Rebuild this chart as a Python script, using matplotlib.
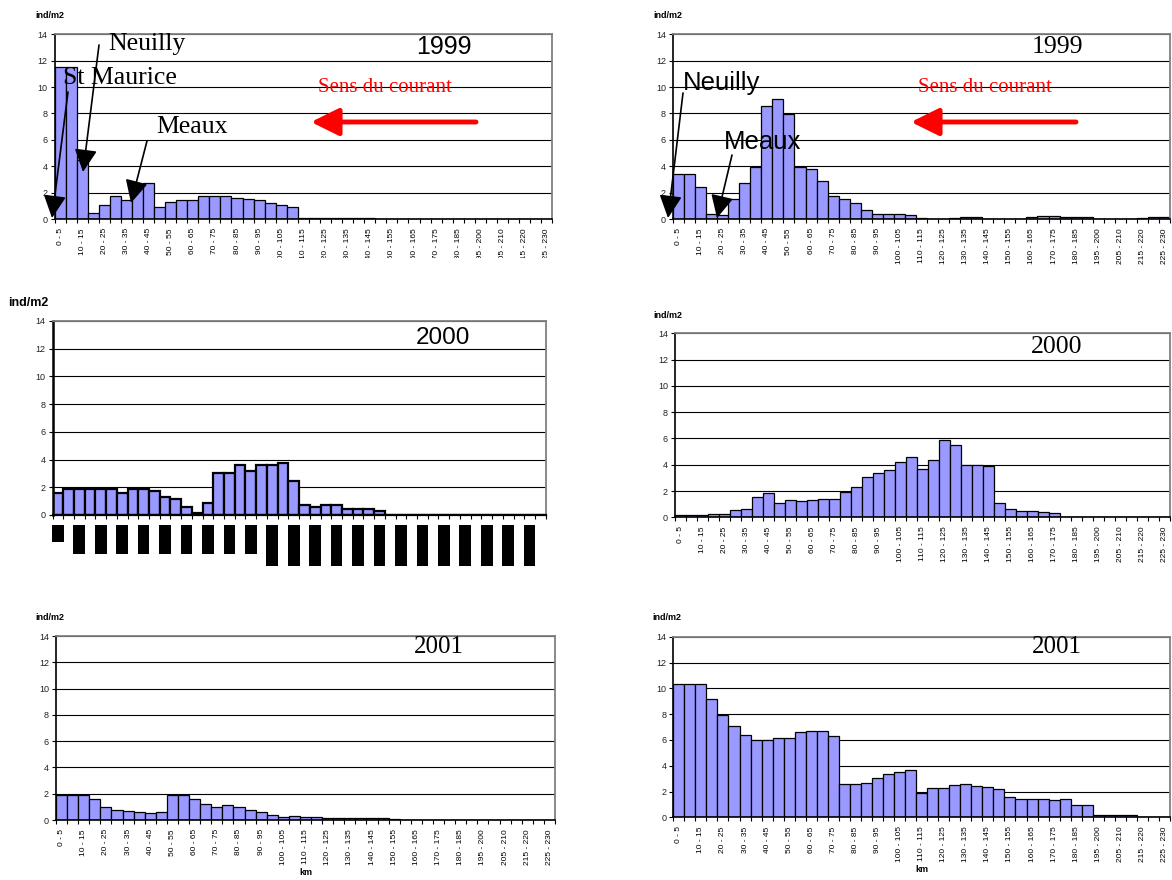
import numpy as np
import matplotlib
matplotlib.use('Agg')
import matplotlib.pyplot as plt
from matplotlib.transforms import blended_transform_factory

W, H = 1172, 880

SANS = 'Liberation Sans'
SERIF = 'Liberation Serif'
BAR = '#9999ff'

plt.rcParams['font.family'] = SANS

# classes de distance (km)
km_bins = [f"{a} - {a + 5}" for a in range(0, 185, 5)] + [
    "185 - 195", "195 - 200", "200 - 205", "205 - 210",
    "210 - 215", "215 - 220", "220 - 225", "225 - 230"]
km_bins_46 = km_bins + ["230 - 235"]

# densités ind/m2, colonne gauche
dens_1999_g = [11.5, 11.5, 4.5, 0.43, 1.04, 1.74, 1.44, 2.5, 2.73, 0.91,
               1.29, 1.42, 1.42, 1.74, 1.74, 1.74, 1.57, 1.5, 1.42, 1.19,
               1.04, 0.88, 0.1, 0.1, 0.1, 0.1, 0.1, 0.1, 0.05, 0,
               0, 0, 0, 0, 0, 0, 0, 0, 0, 0,
               0, 0, 0, 0, 0]
dens_2000_g = [1.61, 1.9, 1.9, 1.9, 1.9, 1.9, 1.61, 1.9, 1.9, 1.75,
               1.3, 1.15, 0.58, 0.17, 0.86, 3.05, 3.05, 3.63, 3.2, 3.63,
               3.63, 3.77, 2.47, 0.74, 0.58, 0.74, 0.74, 0.46, 0.46, 0.46,
               0.31, 0, 0, 0, 0, 0, 0, 0, 0, 0,
               0, 0, 0, 0, 0, 0]
dens_2001_g = [1.93, 1.93, 1.93, 1.57, 0.99, 0.74, 0.66, 0.58, 0.53, 0.58,
               1.93, 1.88, 1.62, 1.24, 0.99, 1.12, 0.99, 0.74, 0.58, 0.41,
               0.23, 0.28, 0.25, 0.25, 0.18, 0.18, 0.18, 0.13, 0.13, 0.13,
               0.05, 0, 0, 0, 0, 0, 0, 0, 0, 0,
               0, 0, 0, 0, 0]

# densités ind/m2, colonne droite
dens_1999_d = [3.44, 3.44, 2.4, 0.35, 0.28, 1.52, 2.7, 3.97, 8.54, 9.12,
               7.99, 3.97, 3.79, 2.86, 1.72, 1.52, 1.24, 0.66, 0.35, 0.35,
               0.35, 0.28, 0.08, 0, 0, 0.05, 0.13, 0.13, 0, 0,
               0, 0, 0.18, 0.25, 0.25, 0.13, 0.18, 0.18, 0, 0,
               0, 0, 0.08, 0.13, 0.13]
dens_2000_d = [0.15, 0.15, 0.15, 0.23, 0.23, 0.53, 0.61, 1.57, 1.83, 1.09,
               1.29, 1.22, 1.32, 1.37, 1.37, 1.93, 2.33, 3.09, 3.37, 3.63,
               4.18, 4.56, 3.68, 4.34, 5.86, 5.48, 3.96, 3.96, 3.9, 1.12,
               0.61, 0.48, 0.48, 0.41, 0.36, 0.03, 0.03, 0.03, 0.03, 0.03,
               0.03, 0.03, 0.03, 0.03, 0.03]
dens_2001_d = [10.33, 10.33, 10.33, 9.17, 7.96, 7.08, 6.35, 5.99, 5.99, 6.12,
               6.12, 6.61, 6.66, 6.72, 6.33, 2.61, 2.61, 2.66, 3.07, 3.38,
               3.49, 3.67, 1.86, 2.3, 2.3, 2.48, 2.56, 2.43, 2.35, 2.17,
               1.55, 1.45, 1.45, 1.45, 1.32, 1.42, 0.93, 0.93, 0.15, 0.15,
               0.15, 0.15, 0.05, 0.05, 0.05]

fig = plt.figure(figsize=(W / 100, H / 100), dpi=100)


def px(x, y):
    # pixel (depuis le haut) -> fraction de figure
    return x / W, 1 - y / H


def make_ax(l, r, t, b):
    return fig.add_axes([l / W, 1 - b / H, (r - l) / W, (b - t) / H])


def draw_hist(ax, labels, values, lw=0.9):
    n = len(labels)
    pos = np.arange(n)
    ax.bar(pos, values, width=1.0, color=BAR, edgecolor='black', linewidth=lw)
    ax.set_xlim(-0.5, n - 0.5)
    ax.set_ylim(0, 14)
    ax.set_yticks(np.arange(0, 15, 2))
    ax.yaxis.grid(True, color='black', lw=0.8)
    ax.set_axisbelow(True)
    ax.set_xticks(pos[::2])
    ax.set_xticklabels(labels[::2], rotation=90, fontsize=6)
    ax.set_xticks(np.arange(n + 1) - 0.5, minor=True)
    ax.tick_params(axis='x', which='major', length=0, pad=6.5)
    ax.tick_params(axis='x', which='minor', length=3, width=0.8, direction='out')
    ax.tick_params(axis='y', length=3, width=0.8, pad=2, labelsize=6.5, labelcolor='#222222')
    ax.spines['left'].set_color('black')
    ax.spines['bottom'].set_color('black')
    ax.spines['left'].set_linewidth(1.2)
    ax.spines['bottom'].set_linewidth(1.2)
    ax.spines['top'].set_color('#808080')
    ax.spines['right'].set_color('#808080')
    ax.spines['top'].set_linewidth(1.3)
    ax.spines['right'].set_linewidth(1.3)


def label(x, y, s, **kw):
    fig.text(*px(x, y), s, ha='center', va='center', **kw)


def arrow(tail, tip, color='black', style='-|>,head_length=0.7,head_width=0.35', lw=1.2, scale=20):
    fig.add_artist(matplotlib.patches.FancyArrowPatch(
        px(*tail), px(*tip), transform=fig.transFigure, arrowstyle=style,
        mutation_scale=scale, lw=lw, color=color, shrinkA=0, shrinkB=0, zorder=5))


def unit(x, y, size=6.5):
    fig.text(*px(x, y), 'ind/m2', ha='left', va='center', fontsize=size, fontweight='bold')


ax1 = make_ax(54.5, 552.3, 34.3, 219)
draw_hist(ax1, km_bins, dens_1999_g)
ax2 = make_ax(673, 1170, 34.3, 219)
draw_hist(ax2, km_bins, dens_1999_d)
ax3 = make_ax(52.5, 545.7, 321, 515)
draw_hist(ax3, km_bins_46, dens_2000_g, lw=1.6)
ax4 = make_ax(675, 1170, 333.3, 517.3)
draw_hist(ax4, km_bins, dens_2000_d)
ax5 = make_ax(56, 555, 636, 820)
draw_hist(ax5, km_bins, dens_2001_g)
ax6 = make_ax(673.3, 1170, 636.7, 817.3)
draw_hist(ax6, km_bins, dens_2001_d)

# 2000 gauche : étiquettes de classes noircies
ax3.spines['left'].set_linewidth(1.8)
ax3.spines['bottom'].set_linewidth(1.6)
ax3.set_xticklabels([])
ax_h = 194.0
trans = blended_transform_factory(ax3.transData, ax3.transAxes)
for i in range(0, len(km_bins_46) - 1, 2):
    h = (6.0 * len(km_bins_46[i]) - 13) / ax_h
    ax3.add_patch(plt.Rectangle((i - 0.545, -10 / ax_h - h), 1.09, h, transform=trans,
                                facecolor='black', edgecolor='none', clip_on=False))

for ax in (ax5, ax6):
    ax.set_xlabel('km', fontsize=6.5, fontweight='bold', labelpad=2)

# unités
unit(35, 16)
unit(653, 16)
unit(8, 303, size=9)
unit(653, 315)
unit(35, 617)
unit(652, 618)

# années
label(444, 47, '1999', fontsize=18, family=SANS)
label(1057, 47, '1999', fontsize=18.5, family=SERIF)
label(443, 338, '2000', fontsize=17.5, family=SANS)
label(1057, 347, '2000', fontsize=18.5, family=SERIF)
label(439, 647, '2001', fontsize=18, family=SERIF)
label(1057, 647, '2001', fontsize=18, family=SERIF)

# sens du courant
red_style = '-|>,head_length=0.85,head_width=0.42'
label(385, 87, 'Sens du courant', fontsize=15, family=SERIF, color='red')
arrow((476, 122), (311, 122), color='red', style=red_style, lw=3.5)
label(985, 87, 'Sens du courant', fontsize=15, family=SERIF, color='red')
arrow((1076, 122), (911, 122), color='red', style=red_style, lw=3.5)

# sites, 1999 gauche
label(147, 44, 'Neuilly', fontsize=18.5, family=SERIF)
arrow((99, 45), (83, 172))
label(119.5, 78, 'St Maurice', fontsize=18.5, family=SERIF)
arrow((68, 92), (52, 218))
label(192, 127, 'Meaux', fontsize=18.5, family=SERIF)
arrow((147, 141), (131, 203))

# sites, 1999 droite
label(722, 83, 'Neuilly', fontsize=18.5, family=SANS)
arrow((683, 93), (668, 218))
label(763, 142, 'Meaux', fontsize=18.5, family=SANS)
arrow((732, 155), (717, 218))

# bas des étiquettes coupé sur le premier graphique
fig.add_artist(plt.Rectangle(px(0, 290), 590 / W, 32 / H, transform=fig.transFigure,
                             facecolor='white', edgecolor='none', zorder=10))

fig.savefig('out.png', dpi=100)
